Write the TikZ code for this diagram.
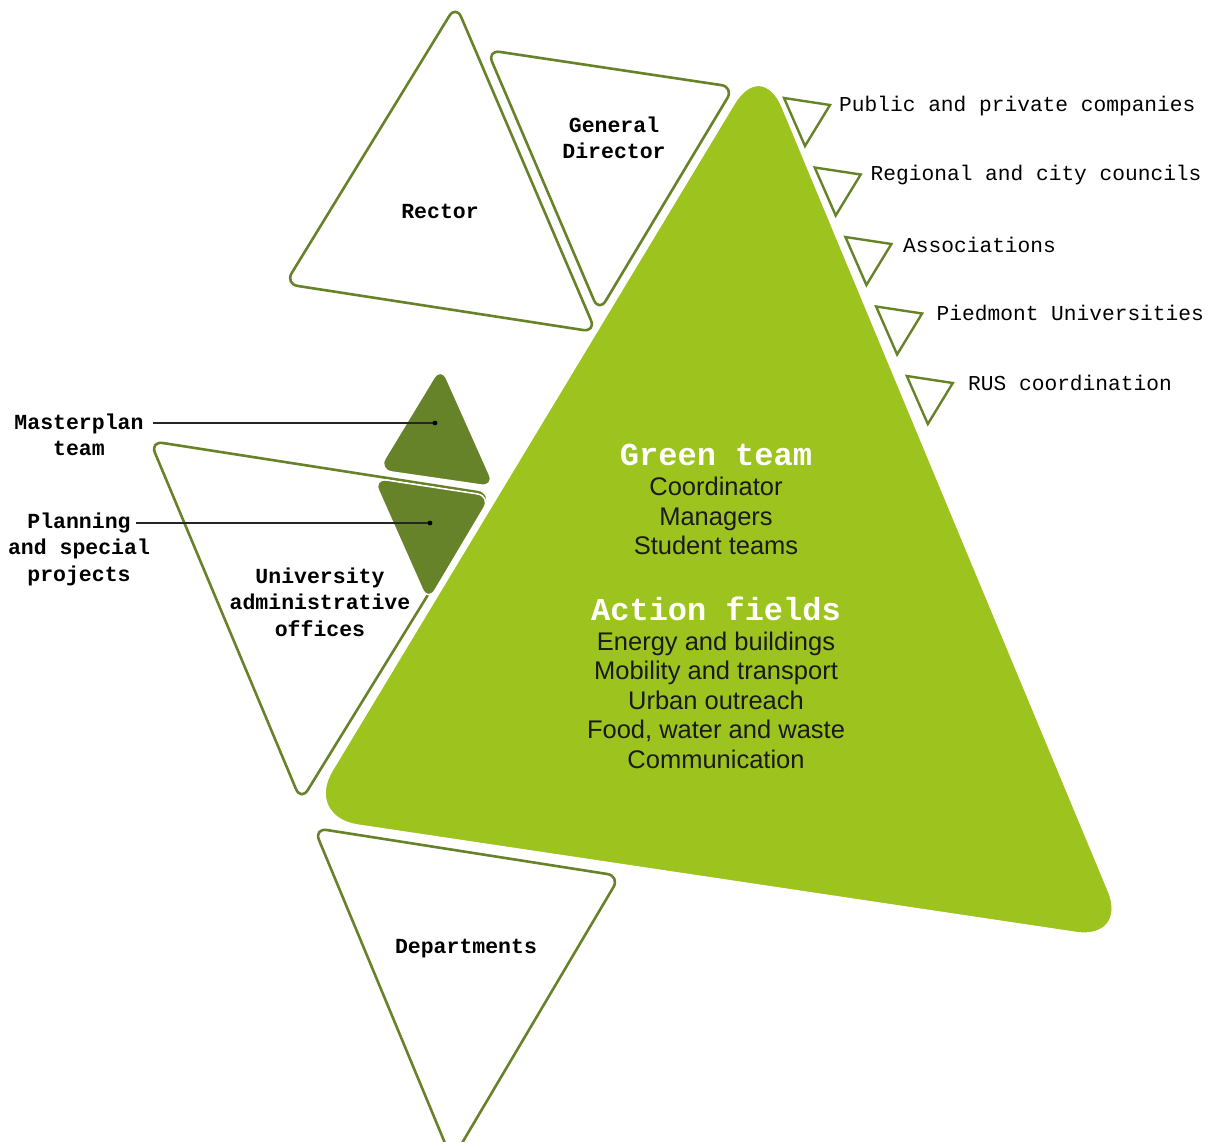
\documentclass[tikz,border=0pt]{standalone}
\usepackage{fontspec}
\setmainfont{Liberation Sans}
\setsansfont{Liberation Sans}
\setmonofont{Liberation Mono}
\definecolor{gtgreen}{HTML}{9CC31E}
\definecolor{gtolive}{HTML}{67832A}
\definecolor{gttext}{HTML}{1A1A1A}
\tikzset{
  outtri/.style={draw=gtolive, line width=2.6pt, fill=white, rounded corners=13pt, line join=round},
  darktri/.style={fill=gtolive, draw=white, line width=1.5pt, rounded corners=14pt},
  bigtri/.style={fill=gtgreen, draw=white, line width=4pt, rounded corners=56pt},
  smalltri/.style={draw=gtolive, line width=2.4pt, fill=white, line join=miter},
  extlabel/.style={anchor=base west, inner sep=0pt, font=\ttfamily\fontsize{21.2}{26.5}\selectfont, text=black},
  boldlabel/.style={align=center, inner sep=0pt, font=\ttfamily\bfseries\fontsize{21.5}{26.5}\selectfont, text=black},
  headlabel/.style={align=center, inner sep=0pt, font=\ttfamily\bfseries\fontsize{32}{36}\selectfont, text=white},
  bodylabel/.style={align=center, inner sep=0pt, font=\sffamily\fontsize{25.5}{29.5}\selectfont, text=gttext},
  conn/.style={draw=black!85, line width=1.1pt}
}
\begin{document}
\begin{tikzpicture}[x=1pt,y=-1pt]
\useasboundingbox (0,0) rectangle (1212,1142);
\clip (0,0) rectangle (1212,1142);

% outlined triangles
\draw[outtri] (456,5) -- (596,332) -- (285,284) -- cycle;      % Rector
\draw[outtri] (487,50) -- (734,87) -- (599,312) -- cycle;      % General Director
\draw[outtri] (150,441) -- (490,494) -- (301,801) -- cycle;    % University
\draw[outtri] (314,828) -- (620,876) -- (452,1160) -- cycle;   % Departments

% dark triangles
\draw[darktri] (441,366) -- (495,487) -- (378,470) -- cycle;   % Masterplan
\draw[darktri] (373,478) -- (491,496) -- (428,602) -- cycle;   % Planning

% big green triangle
\draw[bigtri] (762,55) -- (1131,942) -- (302,818) -- cycle;

% small external triangles
\foreach \i in {0,...,4}{
  \draw[smalltri, shift={(30.7*\i,69.5*\i)}] (784,98) -- (830,105) -- (805,146) -- cycle;
}

% external labels
\node[extlabel] (pub) at (839,112) {Public and private companies};
\node[extlabel] (reg) at (870.5,181) {Regional and city councils};
\node[extlabel] (ass) at (903,252.5) {Associations};
\node[extlabel] (pie) at (936.5,320) {Piedmont Universities};
\node[extlabel] (rus) at (968,390.5) {RUS coordination};

% bold labels
\node[boldlabel] (rector) at (440,211) {Rector};
\node[boldlabel] (gd) at (614,138) {General\\Director};
\node[boldlabel] (uni) at (320,602) {University\\administrative\\offices};
\node[boldlabel] (dep) at (466,949) {Departments};
\node[boldlabel] (mlab) at (79,435) {Masterplan\\team};
\node[boldlabel] (plab) at (79,549) {Planning\\and special\\projects};

% green team texts
\node[headlabel] (gthead) at (716,455) {Green team};
\node[bodylabel] (gtbody) at (716,516) {Coordinator\\Managers\\Student teams};
\node[headlabel] (afhead) at (716,609) {Action fields};
\node[bodylabel] (afbody) at (716,700) {Energy and buildings\\Mobility and transport\\Urban outreach\\Food, water and waste\\Communication};

% connectors
\coordinate (mstart) at (153,423);
\coordinate (mdot) at (435,423);
\coordinate (pstart) at (136,523);
\coordinate (pdot) at (430,523);
\draw[conn] (mstart) -- (mdot);
\draw[conn] (pstart) -- (pdot);
\fill[black] (mdot) circle (2.4);
\fill[black] (pdot) circle (2.4);
\end{tikzpicture}
\end{document}
